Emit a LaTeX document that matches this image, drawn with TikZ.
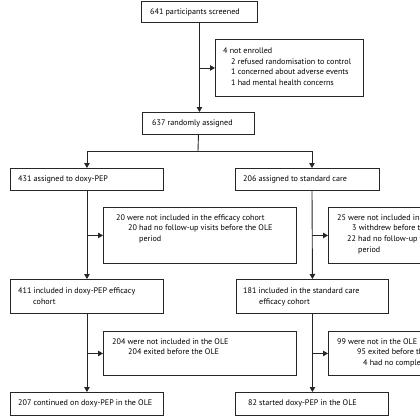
\documentclass[tikz,border=0pt]{standalone}
\usepackage{fontspec}
\setmainfont{PT Sans}
\usetikzlibrary{arrows.meta}
\newcommand\mkbox[5]{\node[boxst, anchor=north west, minimum width={#4-#2}, minimum height={#5-#3}] (#1) at (#2,#3) {};}
\newcommand\mktxt[4]{\node[txtst] (#1) at (#2,{#3-6}) {\rule{0pt}{6pt}#4};}
\begin{document}
\begin{tikzpicture}[x=1pt,y=-1pt,
  boxst/.style={draw=black!85, line width=0.9pt, rectangle, inner sep=0pt},
  txtst/.style={anchor=north west, inner sep=0pt, align=left, text=black, font=\fontsize{8.1}{10.7}\selectfont},
  conn/.style={draw=black!85, line width=0.9pt},
  arr/.style={conn, -{Triangle[length=5pt,width=5.5pt]}}]
\useasboundingbox (0,0) rectangle (420,420);
\clip (0,0) rectangle (420,420);
% boxes
\mkbox{s1}{141}{1}{257}{22}
\mkbox{ex1}{215}{39}{363}{96}
\mkbox{rand}{142}{112}{254}{134}
\mkbox{a1}{10}{168}{163}{190}
\mkbox{a2}{235}{168}{379}{190}
\mkbox{ex2}{103}{207}{296}{263}
\mkbox{ex3}{328}{207}{480}{263}
\mkbox{eff1}{10}{279}{163}{313}
\mkbox{eff2}{236}{279}{388}{313}
\mkbox{ex4}{103}{331}{296}{375}
\mkbox{ex5}{328}{331}{480}{375}
\mkbox{ole1}{10}{392}{163}{415}
\mkbox{ole2}{235}{392}{388}{415}
% texts
\mktxt{ts1}{150}{14.5}{641 participants screened}
\mktxt{tex1}{223}{53.3}{4 not enrolled\\\hspace{8pt}2 refused randomisation to control\\\hspace{8pt}1 concerned about adverse events\\\hspace{8pt}1 had mental health concerns}
\mktxt{trand}{152}{125.6}{637 randomly assigned}
\mktxt{ta1}{18}{181.3}{431 assigned to doxy-PEP}
\mktxt{ta2}{243}{181.3}{206 assigned to standard care}
\mktxt{tex2}{116}{220}{20 were not included in the efficacy cohort\\\hspace{12pt}20 had no follow-up visits before the OLE\\\hspace{23pt}period}
\mktxt{tex3}{337}{220}{25 were not included in the efficacy cohort\\\hspace{15pt}3 withdrew before the OLE\\\hspace{10pt}22 had no follow-up visits before the OLE\\\hspace{21pt}period}
\mktxt{teff1}{18}{293.3}{411 included in doxy-PEP efficacy\\\hspace{15pt}cohort}
\mktxt{teff2}{243}{293.3}{181 included in the standard care\\\hspace{16pt}efficacy cohort}
\mktxt{tex4}{112}{344}{204 were not included in the OLE\\\hspace{16pt}204 exited before the OLE}
\mktxt{tex5}{337}{344}{99 were not in the OLE\\\hspace{20pt}95 exited before the OLE\\\hspace{26pt}4 had no completed follow-up}
\mktxt{tole1}{18}{405}{207 continued on doxy-PEP in the OLE}
\mktxt{tole2}{248}{405}{82 started doxy-PEP in the OLE}
% connectors
\draw[arr] (s1.south) -- (s1.south |- rand.north);
\draw[arr] (s1.south |- ex1.west) -- (ex1.west);
\coordinate (split) at (198,151);
\coordinate (colR) at (312,151);
\draw[conn] (rand.south) -- (split);
\draw[arr] (split) -| (a1.north);
\draw[arr] (split) -| (colR |- a2.north);
\draw[arr] (a1.south) -- (eff1.north);
\draw[arr] (a1.south |- ex2.west) -- (ex2.west);
\draw[arr] (colR |- a2.south) -- (eff2.north);
\draw[arr] (colR |- ex3.west) -- (ex3.west);
\draw[arr] (eff1.south) -- (ole1.north);
\draw[arr] (eff1.south |- ex4.west) -- (ex4.west);
\draw[arr] (eff2.south) -- (eff2.south |- ole2.north);
\draw[arr] (eff2.south |- ex5.west) -- (ex5.west);
\end{tikzpicture}
\end{document}
